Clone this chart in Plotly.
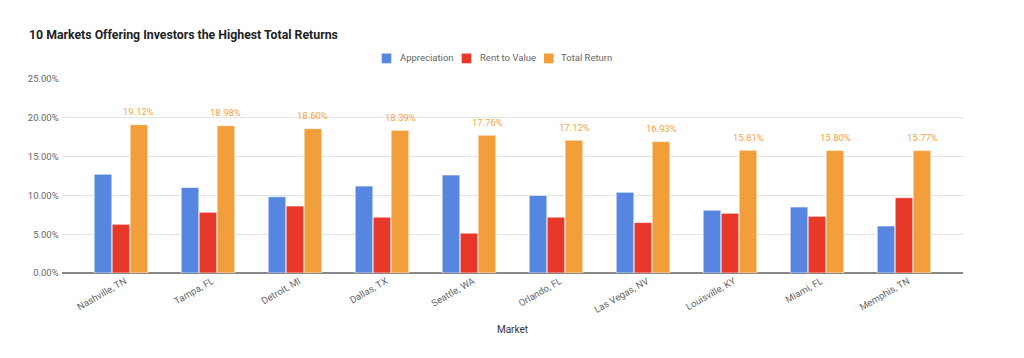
import plotly.graph_objects as go

markets = ["Nashville, TN", "Tampa, FL", "Detroit, MI", "Dallas, TX", "Seattle, WA",
           "Orlando, FL", "Las Vegas, NV", "Louisville, KY", "Miami, FL", "Memphis, TN"]
appreciation = [0.1273, 0.1103, 0.0982, 0.1120, 0.1263, 0.1000, 0.1040, 0.0810, 0.0850, 0.0606]
rent_to_value = [0.0628, 0.0782, 0.0863, 0.0720, 0.0513, 0.0720, 0.0650, 0.0770, 0.0730, 0.0970]
total_return = [0.1912, 0.1898, 0.1860, 0.1839, 0.1776, 0.1712, 0.1693, 0.1581, 0.1580, 0.1577]
series_names = ["Appreciation", "Rent to Value", "Total Return"]

C_BLUE = "#5686e0"
C_RED = "#e8382a"
C_ORANGE = "#f29e3a"
colors = [C_BLUE, C_RED, C_ORANGE]

# page body has an 8px margin; lay out in screen pixels and compensate
OFF = 8
W, H = 1024, 358
L = 62 - OFF
T = 79 - OFF
PW, PH = 901, 194
R = W - L - PW
B = H - T - PH

def px_x(p):
    return (p - OFF - L) / PW

def px_y(p):
    return (T + PH - (p - OFF)) / PH

fig = go.Figure()
for name, vals, col in zip(series_names, [appreciation, rent_to_value, total_return], colors):
    fig.add_trace(go.Bar(name=name, x=markets, y=vals, showlegend=False,
                         marker=dict(color=col, line=dict(color="white", width=0.6))))

# value labels above the Total Return bars
for m, v in zip(markets, total_return):
    fig.add_annotation(x=m, y=v, xref="x", yref="y", text=f"{v*100:.2f}%",
                       showarrow=False, xanchor="center", yanchor="middle",
                       xshift=18, yshift=13,
                       font=dict(color="#f5a446", size=9.5, family="Roboto"))

# legend drawn as squares + text
legend_sq = [381.7, 461.7, 544.0]
legend_tx = [397.7, 477.7, 559.3]
for sq, tx, name, col in zip(legend_sq, legend_tx, series_names, colors):
    fig.add_shape(type="rect", xref="paper", yref="paper",
                  x0=px_x(sq), x1=px_x(sq + 9.6), y0=px_y(63.3), y1=px_y(53.5),
                  fillcolor=col, line=dict(width=0))
    fig.add_annotation(xref="paper", yref="paper", x=px_x(tx), y=px_y(57.6),
                       xanchor="left", yanchor="middle", showarrow=False, text=name,
                       font=dict(size=9.5, color="#666666", family="Roboto"))

fig.update_layout(
    width=W, height=H,
    margin=dict(l=L, r=R, t=T, b=B, autoexpand=False),
    paper_bgcolor="white", plot_bgcolor="white",
    barmode="group", bargap=0.38, bargroupgap=0.02,
    font=dict(family="Roboto", color="#555555", size=10),
    title=dict(text="<b>10 Markets Offering Investors the Highest Total Returns</b>",
               xref="container", yref="container",
               x=(29 - OFF) / W, xanchor="left", y=1 - (35 - OFF) / H, yanchor="middle",
               font=dict(size=12.3, color="#222222", family="Roboto")),
    showlegend=False,
    xaxis=dict(range=[-0.678, 9.678], tickangle=-30, showgrid=False, automargin=False,
               showline=False, zeroline=False, ticklabelshift=4,
               tickfont=dict(size=9.5, color="#666666"),
               title=dict(text="Market", font=dict(size=10, color="#333333"), standoff=11)),
    yaxis=dict(range=[0, 0.25], dtick=0.05, tickformat=".2%", automargin=False,
               showgrid=True, gridcolor="#e3e3e3", gridwidth=1,
               zeroline=True, zerolinecolor="#888888", zerolinewidth=1.5,
               tickfont=dict(size=9.5, color="#666666"), ticksuffix=" "),
)

fig.write_html("out.html")
